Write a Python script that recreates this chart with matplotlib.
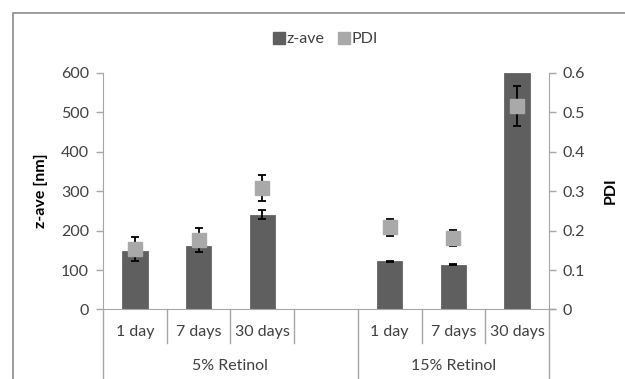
import matplotlib.pyplot as plt
import numpy as np
from matplotlib.patches import Rectangle
from matplotlib.lines import Line2D

plt.rcParams['font.family'] = ['Lato', 'DejaVu Sans']

# data (slot 4 is the empty gap in the 5% group)
days = ['1 day', '7 days', '30 days', '', '1 day', '7 days', '30 days']
groups = ['5% Retinol', '15% Retinol']
zave = [149, 162, 240, np.nan, 122, 113, 600]
zave_err = [np.nan, np.nan, 11, np.nan, 2, 1, np.nan]
pdi = [0.154, 0.176, 0.308, np.nan, 0.208, 0.182, 0.516]
pdi_err = [0.030, 0.030, 0.032, np.nan, 0.021, 0.020, 0.050]

dark = '#5f5f5f'
light = '#a9a9a9'
axcol = '#a6a6a6'
txt = '#404040'
fs = 11.5

fig = plt.figure(figsize=(6.25, 3.79), dpi=100)
ax = fig.add_axes([0.1648, 0.1834, 0.7136, 0.6248])
x = np.arange(len(days))

ax.bar(x, zave, width=0.4, color=dark, edgecolor='#555555', linewidth=0.5, zorder=2)
ax.errorbar(x, zave, yerr=zave_err, fmt='none', ecolor='black', elinewidth=1.3,
            capsize=3, capthick=1.3, zorder=3)
ax.set_xlim(-0.5, 6.5)
ax.set_ylim(0, 600)
ax.set_yticks(range(0, 601, 100))
ax.set_xticks([])

ax2 = ax.twinx()
ax2.errorbar(x, pdi, yerr=pdi_err, fmt='s', color=light, markersize=9.5,
             ecolor='black', elinewidth=1.3, capsize=3, capthick=1.3, zorder=4)
ax2.set_ylim(0, 0.6)
ax2.set_yticks(np.arange(0, 0.61, 0.1))
ax2.set_yticklabels(['0', '0.1', '0.2', '0.3', '0.4', '0.5', '0.6'])

for a in (ax, ax2):
    a.spines['top'].set_visible(False)
    for s in ['left', 'right', 'bottom']:
        a.spines[s].set_color(axcol)
    a.tick_params(axis='y', colors=axcol, labelcolor=txt, labelsize=fs,
                  length=5, direction='out', width=1, pad=5)
ax.spines['right'].set_visible(False)
ax2.spines['left'].set_visible(False)
ax2.spines['bottom'].set_visible(False)

ax.set_ylabel('z-ave [nm]', fontsize=fs, fontweight='bold', color='black')
ax.yaxis.set_label_coords(-0.123, 0.5)
ax2.set_ylabel('PDI', fontsize=fs, fontweight='bold', color='black')
ax2.yaxis.set_label_coords(1.123, 0.5)

# category axis: separators and labels
trans = ax.get_xaxis_transform()
for b in [0.5, 1.5, 2.5, 4.5, 5.5]:
    ax.plot([b, b], [0, -0.142], color=axcol, lw=1, transform=trans, clip_on=False)
for b in [-0.5, 3.5, 6.5]:
    ax.plot([b, b], [0, -0.3], color=axcol, lw=1, transform=trans, clip_on=False)
ax.plot([6.5, 6.6], [0, 0], color=axcol, lw=1, transform=trans, clip_on=False)
for xi, d in zip(x, days):
    ax.text(xi, -0.095, d, transform=trans, ha='center', va='center',
            fontsize=fs, color=txt)
ax.text(1.5, -0.24, groups[0], transform=trans, ha='center', va='center',
        fontsize=fs, color=txt)
ax.text(5.0, -0.24, groups[1], transform=trans, ha='center', va='center',
        fontsize=fs, color=txt)

# outer chart frame
fig.patches.append(Rectangle((0.0208, -0.1), 1.1, 1.0665, transform=fig.transFigure,
                             fill=False, edgecolor='#8c8c8c', linewidth=1.2))

handles = [Line2D([], [], marker='s', ls='none', color=dark, markersize=8),
           Line2D([], [], marker='s', ls='none', color=light, markersize=8)]
fig.legend(handles, ['z-ave', 'PDI'], loc='center', bbox_to_anchor=(0.52, 0.897),
           ncol=2, frameon=False, fontsize=fs, handletextpad=0.1,
           columnspacing=0.8, handlelength=0.8, labelcolor=txt)

fig.savefig('out.png', dpi=100)
